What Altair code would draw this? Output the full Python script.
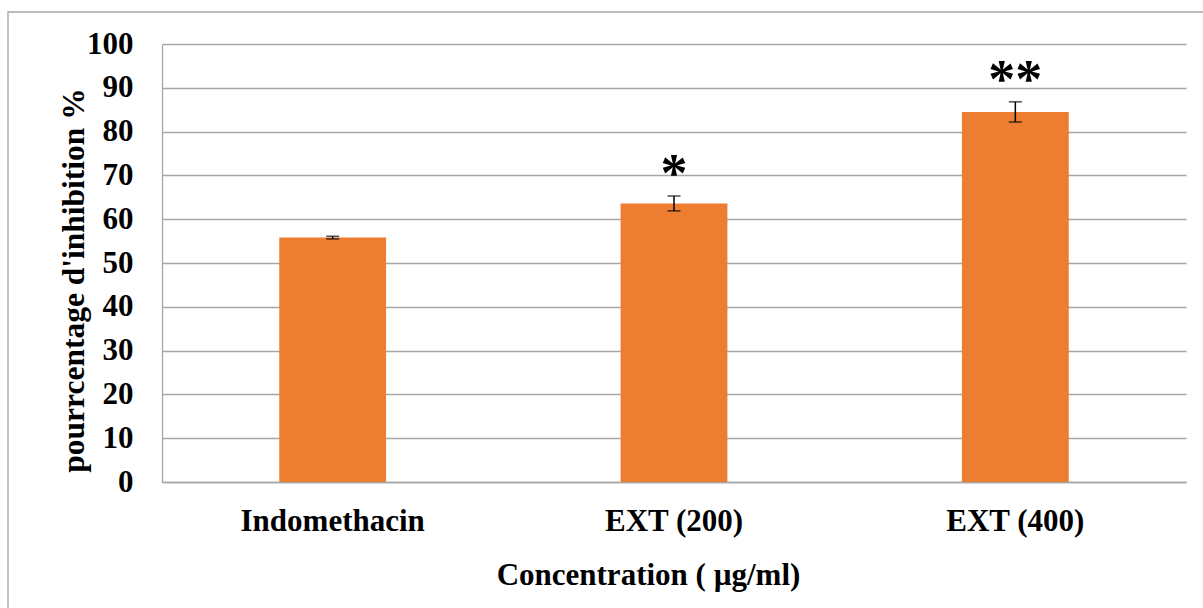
import altair as alt
import pandas as pd

categories = ["Indomethacin", "EXT (200)", "EXT (400)"]
means = [55.8, 63.6, 84.5]
errors = [0.3, 1.7, 2.3]
stars = ["", "*", "**"]
y_ticks = [0, 10, 20, 30, 40, 50, 60, 70, 80, 90, 100]

df = pd.DataFrame({
    "cat": categories,
    "mean": means,
    "lo": [m - e for m, e in zip(means, errors)],
    "hi": [m + e for m, e in zip(means, errors)],
    "star": stars,
})

FONT = "Liberation Serif"
GRID = "#a6a6a6"

x_enc = alt.X(
    "cat:N",
    sort=categories,
    scale=alt.Scale(paddingInner=0.687, paddingOuter=0.3435),
    axis=alt.Axis(
        title="Concentration ( µg/ml)",
        labelAngle=0, labelLimit=0,
        labelFont=FONT, labelFontSize=31, labelFontWeight="bold", labelColor="black",
        labelBaseline="alphabetic", labelPadding=48,
        ticks=False, domain=True, domainColor=GRID, domainWidth=1.3,
        titleFont=FONT, titleFontSize=31, titleFontWeight="bold", titleColor="black",
        titleX=486, titleY=102, titleBaseline="alphabetic", titleAnchor="start", titleAlign="center",
    ),
)

y_scale = alt.Scale(domain=[0, 100], nice=False)

bars = alt.Chart(df).mark_bar(color="#ED7D31").encode(
    x=x_enc,
    y=alt.Y(
        "mean:Q",
        scale=y_scale,
        axis=alt.Axis(
            title="pourrcentage d'inhibition %",
            values=y_ticks,
            grid=True, gridColor=GRID, gridWidth=1.3,
            ticks=False, domain=True, domainColor=GRID, domainWidth=1.3,
            labelFont=FONT, labelFontSize=31, labelFontWeight="bold", labelColor="black",
            labelPadding=29,
            titleFont=FONT, titleFontSize=31.5, titleFontWeight="bold", titleColor="black",
            titleAngle=-90, titleX=-88, titleY=236, titleAlign="center", titleBaseline="middle",
        ),
    ),
)

rules = alt.Chart(df).mark_rule(color="black", strokeWidth=1.5).encode(
    x=alt.X("cat:N", sort=categories),
    y=alt.Y("lo:Q", scale=y_scale),
    y2="hi:Q",
)

caps_lo = alt.Chart(df).mark_tick(color="black", thickness=1.5, size=13, orient="horizontal").encode(
    x=alt.X("cat:N", sort=categories),
    y=alt.Y("lo:Q", scale=y_scale),
)
caps_hi = alt.Chart(df).mark_tick(color="black", thickness=1.5, size=13, orient="horizontal").encode(
    x=alt.X("cat:N", sort=categories),
    y=alt.Y("hi:Q", scale=y_scale),
)

text = alt.Chart(df).mark_text(
    font=FONT, fontSize=54, fontWeight="bold", color="black",
    baseline="alphabetic", align="center", dy=-5,
).encode(
    x=alt.X("cat:N", sort=categories),
    y=alt.Y("hi:Q", scale=y_scale),
    text="star:N",
)

frame = alt.Chart(pd.DataFrame({"a": [0]})).mark_rect(
    fill=None, stroke="#a6a6a6", strokeWidth=1.3
).encode(
    x=alt.value(-154), x2=alt.value(1060),
    y=alt.value(-32), y2=alt.value(600),
)

chart = alt.layer(frame, bars, rules, caps_lo, caps_hi, text).properties(
    width=1024, height=438,
    autosize=alt.AutoSizeParams(type="none"),
    padding={"left": 162, "top": 44, "right": 17, "bottom": 126},
    background="white",
).configure_view(stroke=None)

chart.save("out.html", embed_options={"renderer": "svg", "actions": False})
